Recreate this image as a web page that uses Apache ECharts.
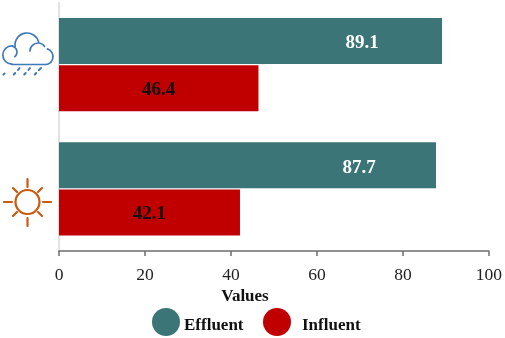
<!DOCTYPE html>
<html>
<head>
<meta charset="utf-8">
<style>html,body{margin:0;padding:0;background:#fff}#c{width:505px;height:338px}</style>
<script src="https://cdn.jsdelivr.net/npm/echarts@6/dist/echarts.min.js"></script>
</head>
<body>
<div id="c"></div>
<script>
const categories = ['Rainy', 'Sunny'];
const effluent = [89.1, 87.7];
const influent = [46.4, 42.1];
const xTicks = { min: 0, max: 100, interval: 20 };

const SERIF = '"Liberation Serif","Times New Roman",serif';
const BLUE = '#3f7ab8', ORANGE = '#c8590f';
const deg = d => d * Math.PI / 180;
const arc = (cx, cy, r, a, b, color, w) => ({
  type: 'arc', silent: true,
  shape: { cx, cy, r, startAngle: deg(a), endAngle: deg(b), clockwise: true },
  style: { fill: null, stroke: color, lineWidth: w, lineCap: 'round' }
});
const seg = (x1, y1, x2, y2, color, w) => ({
  type: 'line', silent: true,
  shape: { x1, y1, x2, y2 },
  style: { stroke: color, lineWidth: w, lineCap: 'round' }
});

const rainIcon = [
  arc(12, 55, 9.2, 90, 275, BLUE, 1.7),
  arc(11, 52, 6, -75, 50, BLUE, 1.7),
  arc(27, 45, 12, 172, 345, BLUE, 1.7),
  arc(38, 51, 8, 180, 325, BLUE, 1.7),
  arc(45, 56.5, 8, -72, 90, BLUE, 1.7),
  seg(12, 64.5, 45, 64.5, BLUE, 1.7),
  seg(3.4, 74.5, 4.6, 73.5, BLUE, 2),
  seg(13.8, 74.5, 15.2, 73, BLUE, 2),
  seg(18, 70, 19.5, 68, BLUE, 2),
  seg(24.3, 74.5, 25.7, 73, BLUE, 2),
  seg(28.5, 70, 30, 68, BLUE, 2),
  seg(34.8, 74.5, 36.2, 73, BLUE, 2),
  seg(39, 70, 41, 68, BLUE, 2)
];
const sunIcon = [
  { type: 'circle', silent: true, shape: { cx: 27.5, cy: 202, r: 12 },
    style: { fill: null, stroke: ORANGE, lineWidth: 2.2 } },
  seg(27.5, 179, 27.5, 187, ORANGE, 2.2),
  seg(27.5, 218, 27.5, 226, ORANGE, 2.2),
  seg(4, 202, 12, 202, ORANGE, 2.2),
  seg(43, 202, 51, 202, ORANGE, 2.2),
  seg(13, 188, 17, 192, ORANGE, 2.2),
  seg(42, 188, 38, 192, ORANGE, 2.2),
  seg(13, 216, 17, 212, ORANGE, 2.2),
  seg(42, 216, 38, 212, ORANGE, 2.2)
];

const legendRich = (left) => ({
  t: { fontFamily: SERIF, fontWeight: 'bold', fontSize: 17, color: '#111', padding: [7, 0, 0, left] }
});
const option = {
  animation: false,
  backgroundColor: '#fff',
  grid: { left: 59, right: 16, top: 2.5, bottom: 87, containLabel: false },
  xAxis: {
    type: 'value', min: xTicks.min, max: xTicks.max, interval: xTicks.interval,
    name: 'Values', nameLocation: 'middle', nameGap: 37, nameMoveOverlap: false,
    nameTextStyle: { fontFamily: SERIF, fontWeight: 'bold', fontSize: 17, color: '#111', padding: [0, 58, 0, 0] },
    axisLine: { show: true, lineStyle: { color: '#6e6e6e', width: 1.5 } },
    axisTick: { show: true, length: 5, lineStyle: { color: '#6e6e6e', width: 1.5 } },
    axisLabel: { fontFamily: SERIF, fontSize: 17.5, color: '#222', margin: 15, hideOverlap: false },
    splitLine: { show: false }
  },
  yAxis: {
    type: 'category', inverse: true, data: categories,
    axisLine: { show: true, lineStyle: { color: '#d9d9d9', width: 1.5 } },
    axisTick: { show: false },
    axisLabel: { show: false }
  },
  legend: [
    { data: ['Effluent'], left: 147, top: 303, icon: 'circle', itemWidth: 28, itemHeight: 28, itemGap: 0,
      formatter: '{t|{name}}', textStyle: { padding: [0, 0, 0, -1], rich: legendRich(0) }, selectedMode: false },
    { data: ['Influent'], left: 258, top: 303, icon: 'circle', itemWidth: 28, itemHeight: 28, itemGap: 0,
      formatter: '{t|{name}}', textStyle: { padding: [0, 0, 0, 6], rich: legendRich(0) }, selectedMode: false }
  ],
  series: [
    { name: 'Effluent', type: 'bar', data: effluent, barWidth: 46, barGap: '3%',
      itemStyle: { color: '#3b7577' },
      label: { show: true, position: 'inside', offset: [111.5, 2.5], fontFamily: SERIF, fontWeight: 'bold', fontSize: 19, color: '#fff' } },
    { name: 'Influent', type: 'bar', data: influent, barWidth: 46, barGap: '3%',
      itemStyle: { color: '#c00000' },
      label: { show: true, position: 'inside', offset: [0, 1.5], fontFamily: SERIF, fontWeight: 'bold', fontSize: 19, color: '#111' } }
  ],
  graphic: { elements: rainIcon.concat(sunIcon) }
};
echarts.init(document.getElementById('c'), null, { renderer: 'canvas' }).setOption(option);
</script>
</body>
</html>
